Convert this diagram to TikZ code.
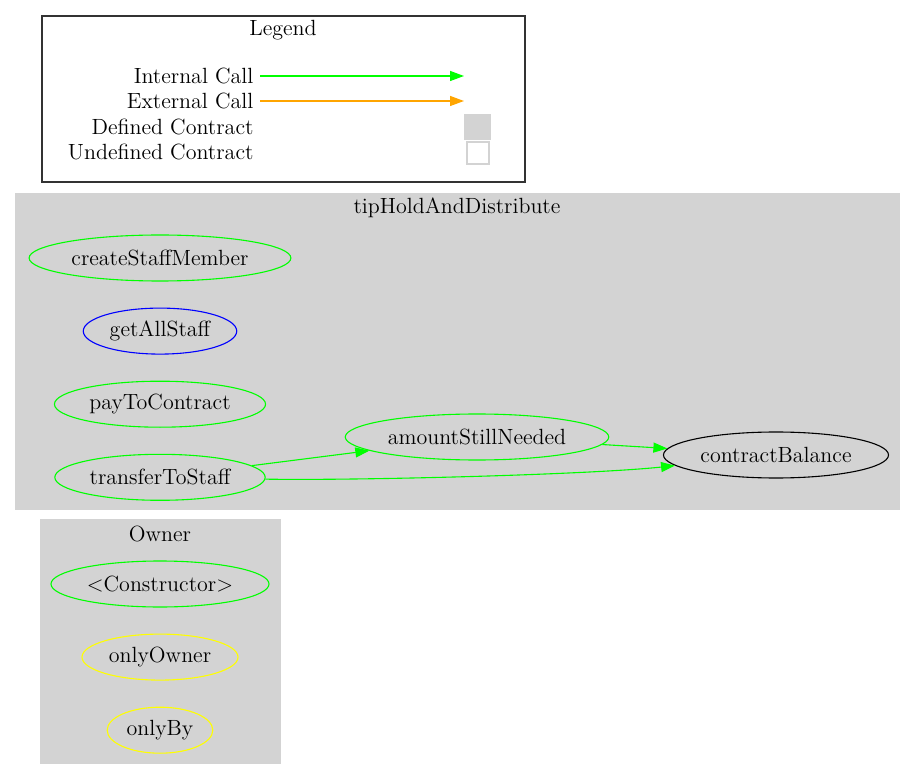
\documentclass[tikz,border=0pt]{standalone}
\usetikzlibrary{arrows.meta,positioning,shapes.geometric}
\definecolor{clustergray}{HTML}{D3D3D3}
\definecolor{callgreen}{HTML}{00FF00}
\definecolor{callorange}{HTML}{FFA500}
\definecolor{modyellow}{HTML}{FFFF00}
\begin{document}
\begin{tikzpicture}[x=0.5pt,y=-0.5pt,node distance=13pt,line width=0.55pt,>={Triangle[length=7pt,width=5pt]},
  every node/.append style={font=\fontsize{11}{13}\selectfont},
  fn/.style={ellipse, draw=callgreen, minimum height=23pt, inner xsep=2pt, inner ysep=0pt},
  modnode/.style={fn, draw=modyellow},
  viewnode/.style={fn, draw=blue},
  extnode/.style={fn, draw=black},
  legendlabel/.style={anchor=east, inner xsep=0pt},
  call/.style={->, callgreen},
  extcall/.style={->, callorange}]
    \useasboundingbox (0,0) rectangle (915,780);
    % legend
    \draw[black!80] (42,16) rectangle (525,182);
    \node (legend) at (283,30) {Legend};
    \node [legendlabel] (lint) at (254,76) {Internal Call};
    \node [legendlabel] (lext) at (254,101) {External Call};
    \node [legendlabel] (ldef) at (254,127) {Defined Contract};
    \node [legendlabel] (lund) at (254,152) {Undefined Contract};
    \coordinate (intend) at (464,76);
    \coordinate (extend) at (464,101);
    \draw[call, line width=0.65pt] ([xshift=3pt]lint.east) -- (intend);
    \draw[extcall, line width=0.65pt] ([xshift=3pt]lext.east) -- (extend);
    \fill[clustergray] (464,114) rectangle (491,140);
    \draw[clustergray, fill=white] (467,142) rectangle (489,164);
    % tipHoldAndDistribute
    \fill[clustergray] (15,193) rectangle (900,510);
    \node (tipname) at (457,208) {tipHoldAndDistribute};
    \node [fn] (csm) at (160,258) {createStaffMember};
    \node [viewnode, below=of csm] (gas) {getAllStaff};
    \node [fn, below=of gas] (ptc) {payToContract};
    \node [fn, below=of ptc] (tts) {transferToStaff};
    \node [fn] (asn) at (477,437) {amountStillNeeded};
    \node [extnode] (cb) at (776,455) {contractBalance};
    \draw[call] (tts) -- (asn);
    \draw[call] (asn) -- (cb);
    \draw[call] (tts) to[out=-1, in=186, looseness=0.55] (cb);
    % Owner
    \fill[clustergray] (40,519) rectangle (281,764);
    \node (ownername) at (160,534) {Owner};
    \node [fn] (ctor) at (160,584) {<Constructor>};
    \node [modnode, below=of ctor] (oo) {onlyOwner};
    \node [modnode, below=of oo] (ob) {onlyBy};
\end{tikzpicture}
\end{document}
